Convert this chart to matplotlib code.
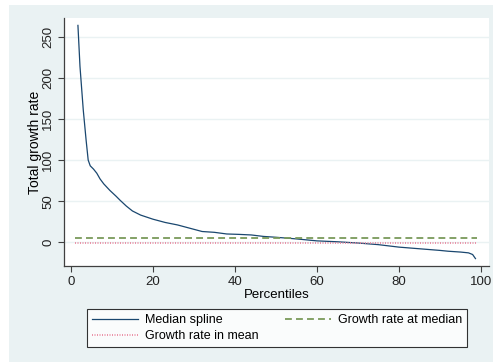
import matplotlib
matplotlib.use('Agg')
import matplotlib.pyplot as plt
from matplotlib.patches import Rectangle

# Median spline of total growth rate by percentile
pct = [1.7, 2.2, 3.0, 3.7, 4.2, 4.7, 5.5, 6.3, 7.1, 8.0, 9.5, 11, 12, 13.5, 15,
       17, 20, 23, 26, 29, 32, 35, 38, 41, 44, 47, 50, 55, 60, 65, 70, 75, 80,
       85, 90, 92, 95, 97, 98, 98.7]
growth = [264, 214, 161, 124, 100, 93, 89, 84, 77, 71, 63, 56, 51, 44, 38,
          33, 28, 24, 21, 17, 13, 12, 10, 9.5, 8.8, 7, 6, 4, 1.6, 0.5, -1, -3, -6,
          -8, -10, -11, -12, -13, -15, -20]
line_x = [1, 99]
median_rate = 5.7
mean_rate = -0.8

xticks = [0, 20, 40, 60, 80, 100]
yticks = [0, 50, 100, 150, 200, 250]

plt.rcParams['font.family'] = ['Liberation Sans', 'DejaVu Sans']
plt.rcParams['font.size'] = 9

W, H = 493, 362
fig = plt.figure(figsize=(W / 100, H / 100), dpi=100)
fig.patch.set_facecolor('white')
# light graph region behind everything
fig.patches.append(Rectangle((9 / W, 0), 1, 1 - 5 / H, transform=fig.transFigure,
                             facecolor='#EAF2F3', edgecolor='none', zorder=-10))

ax = fig.add_axes([64 / W, 1 - 266 / H, (489 - 64) / W, (266 - 18) / H])
ax.set_facecolor('white')

l1, = ax.plot(pct, growth, color='#1A476F', lw=0.9, label='Median spline')
l2, = ax.plot(line_x, [median_rate] * 2, color='#7A9A5A', lw=1.3,
              dashes=(3.8, 2.3), label='Growth rate at median')
l3, = ax.plot(line_x, [mean_rate] * 2, color='#E8809A', lw=1.2,
              dashes=(0.6, 0.9), label='Growth rate in mean')

ax.set_xlim(-1.7, 102)
ax.set_ylim(-29, 273)
ax.set_xticks(xticks)
ax.set_yticks(yticks)
ax.set_yticklabels([str(v) for v in yticks], rotation=90, va='center')
ax.grid(axis='y', color='#EAF2F3', lw=1.0)
ax.set_axisbelow(True)

for s in ['top', 'right']:
    ax.spines[s].set_visible(False)
for s in ['left', 'bottom']:
    ax.spines[s].set_color('#404040')
    ax.spines[s].set_linewidth(0.9)
ax.tick_params(direction='out', length=4, width=0.8, color='#404040',
               labelsize=9.5, labelcolor='#222222', pad=3)

ax.set_xlabel('Percentiles', fontsize=9.5, labelpad=1)
ax.set_ylabel('Total growth rate', fontsize=10, labelpad=0)

leg = fig.legend([l1, l3, l2],
                 ['Median spline', 'Growth rate in mean', 'Growth rate at median'],
                 ncol=2, loc='lower left', mode='expand',
                 bbox_to_anchor=(87 / W, 1 - 347 / H, 380 / W, 40 / H),
                 frameon=True, fancybox=False, edgecolor='black',
                 handlelength=3.7, handletextpad=0.56, borderaxespad=0,
                 borderpad=0.4, labelspacing=0.3, fontsize=9, columnspacing=2)
leg.get_frame().set_linewidth(0.8)

plt.savefig('out.png', dpi=100)
